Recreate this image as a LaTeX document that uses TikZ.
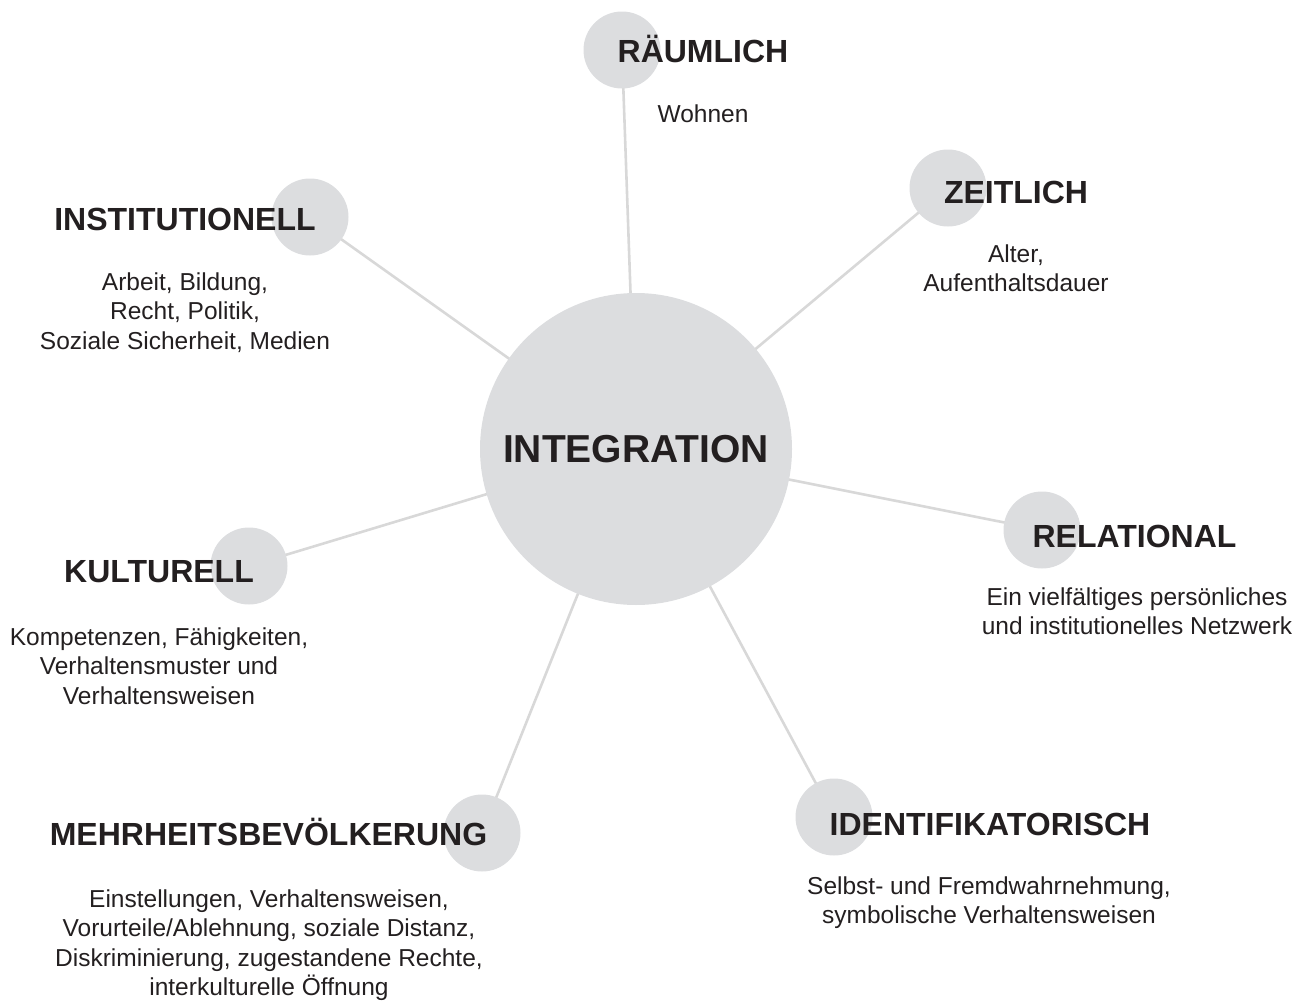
\documentclass[tikz,border=0pt]{standalone}
\usepackage{fontspec}
\setmainfont{Liberation Sans}
\definecolor{circ}{HTML}{DCDDDF}
\definecolor{spokec}{HTML}{D8D8D8}
\definecolor{ink}{HTML}{231F20}
\newcommand\myhead{\fontsize{32}{38}\selectfont\bfseries}
\newcommand\myhub{\fontsize{39}{46}\selectfont\bfseries}
\newcommand\mydesc{\fontsize{24.5}{29.5}\selectfont}
\newcommand\lines[1]{\setlength{\tabcolsep}{0pt}\begin{tabular}[t]{c}#1\end{tabular}}
\pgfdeclarelayer{bg}
\pgfsetlayers{bg,main}
\begin{document}
\begin{tikzpicture}[x=1pt,y=-1pt,
  hub/.style={circle, fill=circ, minimum size=312pt, inner sep=0pt},
  dot/.style={circle, fill=circ, minimum size=77pt, inner sep=0pt},
  spoke/.style={draw=spokec, line width=2.6pt},
  head/.style={font=\myhead, text=ink, anchor=base, inner sep=0pt},
  hubtext/.style={font=\myhub, text=ink, anchor=base, inner sep=0pt},
  desc/.style={font=\mydesc, text=ink, anchor=base, inner sep=0pt}]
\useasboundingbox (0,0) rectangle (1302,1001);
% circles
\node[hub] (c) at (636,449) {};
\node[dot] (d1) at (622,50) {};
\node[dot] (d2) at (948,188) {};
\node[dot] (d3) at (310,217) {};
\node[dot] (d4) at (1042,530) {};
\node[dot] (d5) at (249,566) {};
\node[dot] (d6) at (482,833) {};
\node[dot] (d7) at (834,817) {};
% spokes, behind the circles
\begin{pgfonlayer}{bg}
\foreach \d in {d1,d2,d3,d4,d5,d6,d7}{
  \draw[spoke] (c.center) -- (\d.center);
}
\end{pgfonlayer}
% texts
\node[hubtext] (tc) at (636,462) {INTEGRATION};
\node[head] (t1) at (703,62) {RÄUMLICH};
\node[desc] (s1) at (703,122) {\lines{Wohnen}};
\node[head] (t2) at (1016,203) {ZEITLICH};
\node[desc] (s2) at (1016,262) {\lines{Alter,\\Aufenthaltsdauer}};
\node[head] (t3) at (185,230) {INSTITUTIONELL};
\node[desc] (s3) at (185,290) {\lines{Arbeit, Bildung,\\Recht, Politik,\\Soziale Sicherheit, Medien}};
\node[head] (t4) at (1134.5,547) {RELATIONAL};
\node[desc] (s4) at (1137,605) {\lines{Ein vielfältiges persönliches\\und institutionelles Netzwerk}};
\node[head] (t5) at (159,582) {KULTURELL};
\node[desc] (s5) at (159,645) {\lines{Kompetenzen, Fähigkeiten,\\Verhaltensmuster und\\Verhaltensweisen}};
\node[head] (t6) at (268.5,845) {MEHRHEITSBEVÖLKERUNG};
\node[desc] (s6) at (269,907) {\lines{Einstellungen, Verhaltensweisen,\\Vorurteile/Ablehnung, soziale Distanz,\\Diskriminierung, zugestandene Rechte,\\interkulturelle Öffnung}};
\node[head] (t7) at (990,835) {IDENTIFIKATORISCH};
\node[desc] (s7) at (989,894) {\lines{Selbst- und Fremdwahrnehmung,\\symbolische Verhaltensweisen}};
\end{tikzpicture}
\end{document}
